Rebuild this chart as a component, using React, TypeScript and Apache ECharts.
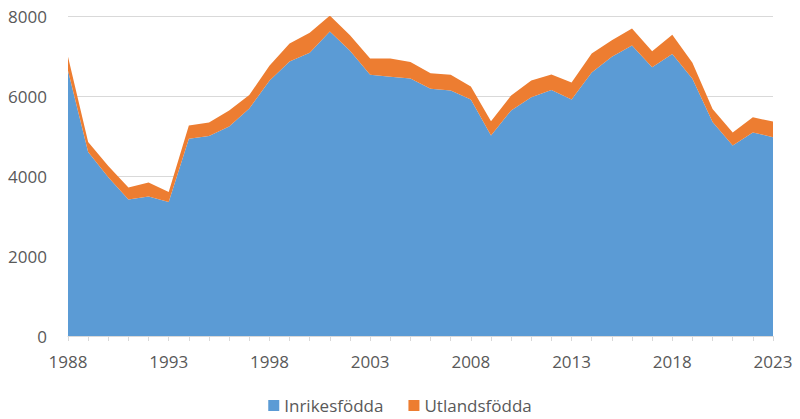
import React, { useEffect, useRef } from "react";
import * as echarts from "echarts";

const years: string[] = [
  "1988","1989","1990","1991","1992","1993","1994","1995","1996","1997",
  "1998","1999","2000","2001","2002","2003","2004","2005","2006","2007",
  "2008","2009","2010","2011","2012","2013","2014","2015","2016","2017",
  "2018","2019","2020","2021","2022","2023",
];

const inrikesfodda: number[] = [
  6630, 4600, 3970, 3410, 3490, 3350, 4930, 5000, 5240, 5690,
  6380, 6860, 7080, 7610, 7130, 6530, 6480, 6440, 6180, 6140,
  5910, 5010, 5640, 5970, 6150, 5910, 6590, 6980, 7260, 6720,
  7050, 6430, 5350, 4760, 5090, 4970,
];

const utlandsfodda: number[] = [
  350, 250, 280, 300, 350, 250, 330, 335, 400, 335,
  375, 455, 500, 400, 390, 410, 460, 410, 390, 390,
  330, 360, 370, 415, 385, 430, 475, 415, 425, 400,
  480, 400, 325, 330, 380, 390,
];

const yTicks = { min: 0, max: 8000, interval: 2000 };

export default function App() {
  const ref = useRef<HTMLDivElement>(null);
  useEffect(() => {
    document.body.style.margin = "0";
    const chart = echarts.init(ref.current!, null, { renderer: "svg" });
    const font = "'Open Sans', 'Noto Sans', sans-serif";
    chart.setOption({
      animation: false,
      grid: { left: 68, right: 27, top: 16, bottom: 83, containLabel: false },
      legend: {
        bottom: 0,
        left: "center",
        icon: "rect",
        itemWidth: 11,
        itemHeight: 11,
        itemGap: 25,
        textStyle: { fontFamily: font, fontSize: 17, color: "#595959" },
        data: ["Inrikesfödda", "Utlandsfödda"],
      },
      xAxis: {
        type: "category",
        boundaryGap: false,
        data: years,
        axisLine: { lineStyle: { color: "#d9d9d9", width: 1 } },
        axisTick: { show: true, interval: 0, length: 5, lineStyle: { color: "#d9d9d9" } },
        axisLabel: {
          interval: 4,
          fontFamily: font,
          fontSize: 17,
          color: "#595959",
          margin: 17,
        },
        splitLine: { show: false },
      },
      yAxis: {
        type: "value",
        min: yTicks.min,
        max: yTicks.max,
        interval: yTicks.interval,
        axisLine: { show: false },
        axisTick: { show: false },
        axisLabel: {
          fontFamily: font,
          fontSize: 17,
          color: "#595959",
          margin: 21,
          formatter: (v: number) => String(v),
        },
        splitLine: { lineStyle: { color: "#d9d9d9", width: 1 } },
      },
      series: [
        {
          name: "Inrikesfödda",
          type: "line",
          stack: "total",
          data: inrikesfodda,
          symbol: "none",
          lineStyle: { width: 0 },
          areaStyle: { color: "#5B9BD5", opacity: 1 },
          itemStyle: { color: "#5B9BD5" },
        },
        {
          name: "Utlandsfödda",
          type: "line",
          stack: "total",
          data: utlandsfodda,
          symbol: "none",
          lineStyle: { width: 0 },
          areaStyle: { color: "#ED7D31", opacity: 1 },
          itemStyle: { color: "#ED7D31" },
        },
      ],
    });
    return () => chart.dispose();
  }, []);
  return <div ref={ref} style={{ width: 800, height: 419 }} />;
}
